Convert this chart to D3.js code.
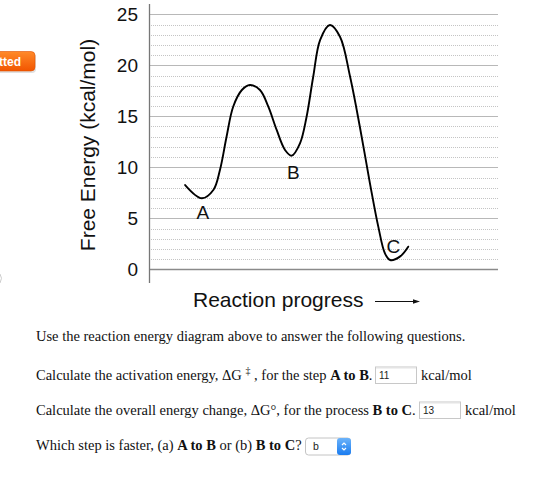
<!DOCTYPE html>
<html>
<head>
<meta charset="utf-8">
<script src="https://cdn.jsdelivr.net/npm/d3@7"></script>
<style>
  html, body { margin: 0; padding: 0; background: #fff; }
  svg { display: block; }
</style>
</head>
<body>
<svg id="chart" width="560" height="478"></svg>
<script>
// ---- data ----
const progress = [10.1, 14.9, 18.2, 20.1, 22.0, 23.9, 26.4, 28.7, 31.6, 34.0, 36.4, 38.8, 40.7,
                  43.1, 45.0, 46.9, 48.9, 51.7, 54.6, 57.5, 60.3, 63.2, 65.6, 67.5, 69.0, 71.8, 74.2];
const energy   = [8.26, 6.96, 7.77, 9.74, 13.0, 15.94, 17.58, 18.07, 17.58, 15.94, 13.66, 11.70, 11.14,
                  12.35, 14.96, 18.88, 22.5, 23.95, 22.8, 18.88, 13.98, 8.43, 4.18, 1.57, 0.91, 1.24, 2.22];
const yTicks = [0, 5, 10, 15, 20, 25];
const minorTicks = d3.range(1, 25).filter(v => v % 5 !== 0);
const pointLabels = ["A", "B", "C"];
const pointProgress = [15.2, 41.2, 69.9];
const pointEnergy = [4.95, 8.85, 1.55];
const answers = ["11", "13", "b"];

const svg = d3.select("#chart");
const x = d3.scaleLinear().domain([0, 100]).range([150, 498]);
const y = d3.scaleLinear().domain([0, 25]).range([269.3, 14.3]);

// minor dotted gridlines
svg.append("g").selectAll("line").data(minorTicks).join("line")
  .attr("x1", 151).attr("x2", 498)
  .attr("y1", d => Math.round(y(d)) + 0.5).attr("y2", d => Math.round(y(d)) + 0.5)
  .attr("stroke", "#c4c4c4").attr("stroke-width", 1).attr("stroke-dasharray", "1,1");

// major gridlines
svg.append("g").selectAll("line").data(yTicks.filter(d => d > 0)).join("line")
  .attr("x1", 150).attr("x2", 498)
  .attr("y1", d => Math.round(y(d)) + 0.5).attr("y2", d => Math.round(y(d)) + 0.5)
  .attr("stroke", "#b8b8b8").attr("stroke-width", 1.2);

// x axis line (0)
svg.append("line").attr("x1", 150).attr("x2", 498)
  .attr("y1", Math.round(y(0)) + 0.5).attr("y2", Math.round(y(0)) + 0.5)
  .attr("stroke", "#8a8a8a").attr("stroke-width", 1.3);

// y axis line
svg.append("line").attr("x1", 149.5).attr("x2", 149.5).attr("y1", 4).attr("y2", 283)
  .attr("stroke", "#777").attr("stroke-width", 1.3);

// y tick labels
svg.append("g").selectAll("text").data(yTicks).join("text")
  .attr("x", 138).attr("y", d => y(d) + 7)
  .attr("text-anchor", "end")
  .attr("font-family", "Liberation Sans, Arial, sans-serif")
  .attr("font-size", 19).attr("fill", "#111")
  .text(d => d);

// y axis title
svg.append("text")
  .attr("transform", "translate(95,145) rotate(-90)")
  .attr("text-anchor", "middle")
  .attr("font-family", "Liberation Sans, Arial, sans-serif")
  .attr("font-size", 21).attr("fill", "#111")
  .text("Free Energy (kcal/mol)");

// x axis title + arrow
svg.append("text")
  .attr("x", 193).attr("y", 307)
  .attr("font-family", "Liberation Sans, Arial, sans-serif")
  .attr("font-size", 21).attr("fill", "#111")
  .text("Reaction progress");
svg.append("line").attr("x1", 375).attr("x2", 415).attr("y1", 301.5).attr("y2", 301.5)
  .attr("stroke", "#111").attr("stroke-width", 1);
svg.append("path").attr("d", "M420,301.5 L413,299.3 L413,303.7 Z").attr("fill", "#111");

// energy curve
const line = d3.line().x((d, i) => x(progress[i])).y(d => y(d)).curve(d3.curveCatmullRom.alpha(0.5));
svg.append("path").datum(energy)
  .attr("d", line)
  .attr("fill", "none").attr("stroke", "#000").attr("stroke-width", 1.9)
  .attr("stroke-linejoin", "round").attr("stroke-linecap", "round");

// point labels
svg.append("g").selectAll("text").data(pointLabels).join("text")
  .attr("x", (d, i) => x(pointProgress[i]))
  .attr("y", (d, i) => y(pointEnergy[i]))
  .attr("text-anchor", "middle")
  .attr("font-family", "Liberation Sans, Arial, sans-serif")
  .attr("font-size", 19).attr("fill", "#111")
  .text(d => d);

// orange button at left edge
const defs = svg.append("defs");
const grad = defs.append("linearGradient").attr("id", "og").attr("x1", 0).attr("y1", 0).attr("x2", 0).attr("y2", 1);
grad.append("stop").attr("offset", "0%").attr("stop-color", "#ff8a2a");
grad.append("stop").attr("offset", "100%").attr("stop-color", "#f25500");
svg.append("rect").attr("x", -10).attr("y", 53).attr("width", 46).attr("height", 20).attr("rx", 4)
  .attr("fill", "#000").attr("opacity", 0.12);
svg.append("rect").attr("x", -10).attr("y", 51.5).attr("width", 45).attr("height", 19.5).attr("rx", 4)
  .attr("fill", "url(#og)").attr("stroke", "#e05000").attr("stroke-width", 0.6);
svg.append("text").attr("x", -1).attr("y", 65.5)
  .attr("font-family", "Liberation Sans, Arial, sans-serif").attr("font-weight", "bold")
  .attr("font-size", 12).attr("fill", "#fff").text("tted");

// small edge fragment at left
svg.append("path").attr("d", "M0,274 Q3,278 0,283").attr("fill", "none").attr("stroke", "#ccc").attr("stroke-width", 1);

// question text
const serif = "Liberation Serif, 'Times New Roman', serif";
const fs = 14.5;
function addLine(yb, parts) {
  const t = svg.append("text").attr("x", 36).attr("y", yb)
    .attr("font-family", serif).attr("font-size", fs).attr("fill", "#111");
  parts.forEach(p => {
    const ts = t.append("tspan").text(p.t);
    if (p.b) ts.attr("font-weight", "bold");
    if (p.sup) ts.attr("dy", -6).attr("font-size", 10);
    if (p.down) ts.attr("dy", 6);
  });
  return t;
}
addLine(341, [{t: "Use the reaction energy diagram above to answer the following questions."}]);
const l2 = addLine(379.5, [{t: "Calculate the activation energy, \u0394G "}, {t: "\u2021", sup: true},
  {t: " , for the step ", down: true}, {t: "A to B", b: true}, {t: "."}]);
const l3 = addLine(414.5, [{t: "Calculate the overall energy change, \u0394G\u00B0, for the process "},
  {t: "B to C", b: true}, {t: "."}]);
const l4 = addLine(450, [{t: "Which step is faster, (a) "}, {t: "A to B", b: true}, {t: " or (b) "},
  {t: "B to C", b: true}, {t: "?"}]);

function inputBox(textEl, yTop, val) {
  const bb = textEl.node().getBBox();
  const bx = Math.round(bb.x + bb.width + 3);
  svg.append("rect").attr("x", bx + 0.5).attr("y", yTop + 0.5).attr("width", 41).attr("height", 16.5)
    .attr("fill", "#fff").attr("stroke", "#c8c8c8").attr("stroke-width", 1);
  svg.append("line").attr("x1", bx + 1).attr("x2", bx + 41).attr("y1", yTop + 1.5).attr("y2", yTop + 1.5)
    .attr("stroke", "#e4e4e4");
  svg.append("text").attr("x", bx + 4).attr("y", yTop + 12.5)
    .attr("font-family", "Liberation Sans, Arial, sans-serif").attr("font-size", 10).attr("fill", "#222")
    .text(val);
  svg.append("text").attr("x", bx + 46).attr("y", yTop + 13)
    .attr("font-family", serif).attr("font-size", fs).attr("fill", "#111").text("kcal/mol");
}
inputBox(l2, 366.5, answers[0]);
inputBox(l3, 401.5, answers[1]);

// select
(function () {
  const bb = l4.node().getBBox();
  const bx = Math.round(bb.x + bb.width + 3);
  const yTop = 437.5;
  svg.append("rect").attr("x", bx + 0.5).attr("y", yTop + 0.5).attr("width", 45).attr("height", 17).attr("rx", 3)
    .attr("fill", "#fff").attr("stroke", "#c4c4c4");
  const bg = defs.append("linearGradient").attr("id", "bg").attr("x1", 0).attr("y1", 0).attr("x2", 0).attr("y2", 1);
  bg.append("stop").attr("offset", "0%").attr("stop-color", "#6cb3fa");
  bg.append("stop").attr("offset", "100%").attr("stop-color", "#1a7cf0");
  svg.append("rect").attr("x", bx + 32).attr("y", yTop + 0.5).attr("width", 14).attr("height", 17).attr("rx", 3)
    .attr("fill", "url(#bg)");
  const cx = bx + 39, cy = yTop + 9;
  svg.append("path").attr("d", `M${cx - 2},${cy - 1.5} L${cx},${cy - 3.5} L${cx + 2},${cy - 1.5} M${cx - 2},${cy + 1.5} L${cx},${cy + 3.5} L${cx + 2},${cy + 1.5}`)
    .attr("fill", "none").attr("stroke", "#fff").attr("stroke-width", 1.2);
  svg.append("text").attr("x", bx + 8).attr("y", yTop + 12.5)
    .attr("font-family", "Liberation Sans, Arial, sans-serif").attr("font-size", 10.5).attr("fill", "#222")
    .text(answers[2]);
})();
</script>
</body>
</html>
